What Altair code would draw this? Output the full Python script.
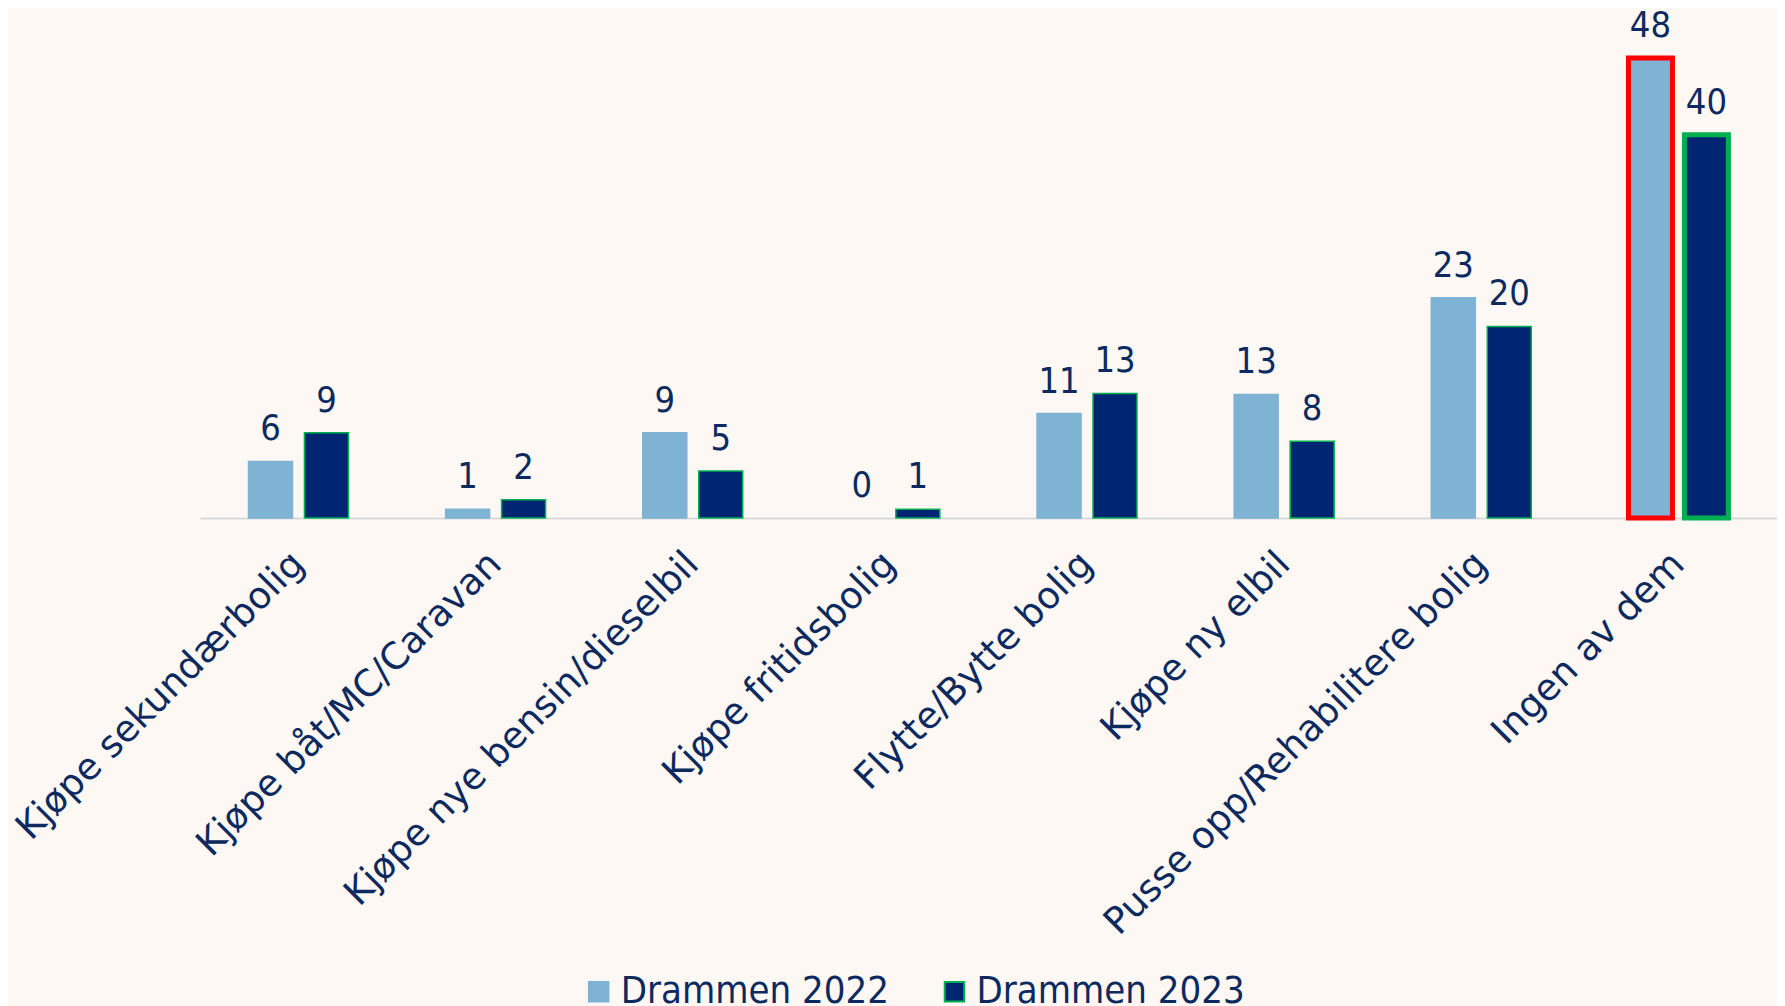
import altair as alt
import pandas as pd

categories = [
    "Kjøpe sekundærbolig",
    "Kjøpe båt/MC/Caravan",
    "Kjøpe nye bensin/dieselbil",
    "Kjøpe fritidsbolig",
    "Flytte/Bytte bolig",
    "Kjøpe ny elbil",
    "Pusse opp/Rehabilitere bolig",
    "Ingen av dem",
]
series = ["Drammen 2022", "Drammen 2023"]
values_2022 = [5.9, 0.9, 8.9, 0.0, 10.9, 12.9, 23.0, 48.0]
values_2023 = [8.9, 1.9, 4.9, 0.9, 13.0, 8.0, 20.0, 40.0]

rows = []
for c, v in zip(categories, values_2022):
    rows.append({"cat": c, "series": series[0], "value": v})
for c, v in zip(categories, values_2023):
    rows.append({"cat": c, "series": series[1], "value": v})
df = pd.DataFrame(rows)

LIGHT = "#7fb3d3"
NAVY = "#002673"
GREEN = "#00b050"
RED = "#ff0000"
TEXT = "#0c2a5f"
BG = "#fdf8f4"
LAST = categories[-1]
NUMFONT = "DejaVu Sans Condensed"

base = alt.Chart(df).encode(
    x=alt.X(
        "cat:N",
        sort=categories,
        title=None,
        scale=alt.Scale(paddingInner=0.493, paddingOuter=0.2465),
        axis=alt.Axis(
            labelAngle=-45,
            labelAlign="right",
            labelBaseline="middle",
            labelFont="DejaVu Sans",
            labelFontSize=37,
            labelColor=TEXT,
            labelPadding=40,
            labelLimit=0,
            labelOverlap=False,
            ticks=False,
            domainColor="#d9d9d9",
            domainWidth=2,
            grid=False,
        ),
    ),
    xOffset=alt.XOffset(
        "series:N", sort=series, scale=alt.Scale(paddingInner=0.214, paddingOuter=0)
    ),
    y=alt.Y("value:Q", scale=alt.Scale(domain=[0, 52.68]), axis=None),
)

bars = base.mark_bar().encode(
    color=alt.Color(
        "series:N",
        sort=series,
        scale=alt.Scale(domain=series, range=[LIGHT, NAVY]),
        legend=alt.Legend(
            title=None,
            orient="none",
            legendX=380,
            legendY=960,
            direction="horizontal",
            symbolType="square",
            symbolSize=380,
            symbolStrokeWidth=2,
            labelFont=NUMFONT,
            labelFontSize=38,
            labelColor=TEXT,
            labelOffset=3,
            labelLimit=0,
            columnPadding=46,
            padding=0,
        ),
    ),
    stroke=alt.condition(
        (alt.datum.cat == LAST) & (alt.datum.series == series[0]),
        alt.value(RED),
        alt.Stroke("series:N", sort=series, scale=alt.Scale(domain=series, range=[LIGHT, GREEN])),
    ),
    strokeWidth=alt.condition(alt.datum.cat == LAST, alt.value(5), alt.value(1.5)),
).transform_filter(alt.datum.value > 0)

labels = base.mark_text(
    baseline="alphabetic",
    dy=-21,
    font=NUMFONT,
    fontSize=36,
    color=TEXT,
).encode(text=alt.Text("value:Q", format=".0f"))

chart = (
    alt.layer(bars, labels)
    .properties(
        width=1578,
        height=505,
        autosize=alt.AutoSizeParams(type="none"),
        padding={"left": 192, "top": 5, "right": 0, "bottom": 488},
        background=BG,
    )
    .configure_view(stroke=None)
)

chart.save("out.html", embed_options={"renderer": "svg", "actions": False})
